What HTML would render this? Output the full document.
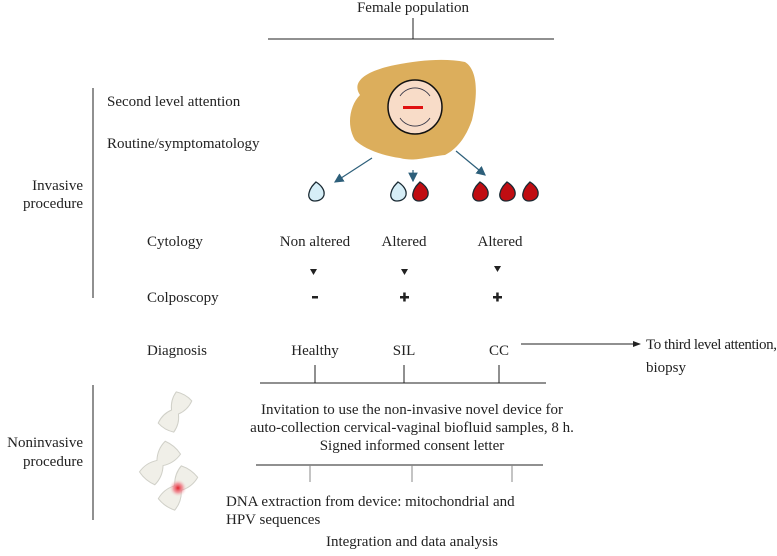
<!DOCTYPE html>
<html><head><style>
body{margin:0;width:777px;height:551px;background:#fff;overflow:hidden}
svg text{font-family:"Liberation Serif",serif;font-size:15px;fill:#222}
</style></head><body>
<svg width="777" height="551" viewBox="0 0 777 551">
<defs><marker id="a" markerWidth="8" markerHeight="8" refX="7" refY="4" orient="auto"><path d="M0,0L8,4L0,8z" fill="#2d5f7a"/></marker>
<marker id="b" markerWidth="8" markerHeight="8" refX="7" refY="4" orient="auto"><path d="M0,1L8,4L0,7z" fill="#222"/></marker>
<radialGradient id="r"><stop offset="0" stop-color="#e0202a"/><stop offset="0.5" stop-color="#f06070" stop-opacity=".6"/><stop offset="1" stop-color="#f0efe8" stop-opacity="0"/></radialGradient></defs>
<g stroke="#222" stroke-width="1" fill="none">
<line x1="413" y1="18" x2="413" y2="39"/><line x1="268" y1="39" x2="554" y2="39"/>
<line x1="93" y1="88" x2="93" y2="298"/><line x1="93" y1="385" x2="93" y2="520"/>
<line x1="260" y1="383" x2="546" y2="383"/>
<line x1="315" y1="365" x2="315" y2="383"/><line x1="404" y1="365" x2="404" y2="383"/><line x1="499" y1="365" x2="499" y2="383"/>
<line x1="256" y1="465" x2="543" y2="465"/>
<line x1="310" y1="465" x2="310" y2="482" stroke="#888"/><line x1="412" y1="465" x2="412" y2="482" stroke="#888"/><line x1="512" y1="465" x2="512" y2="482" stroke="#888"/>
<line x1="521" y1="344" x2="640" y2="344" marker-end="url(#b)"/>
</g>
<path d="M360,95 C350,80 370,70 395,65 C420,60 445,58 465,62 C478,70 478,95 472,120 C465,140 455,150 445,155 C425,157 415,162 400,158 C385,156 365,150 355,140 C346,125 350,105 360,95z" fill="#dcae5c"/>
<circle cx="415" cy="107" r="27" fill="#f8dcc8" stroke="#111" stroke-width="1.5"/>
<path d="M400,96 A18,18 0 0 1 430,96" fill="none" stroke="#334" stroke-width="0.8"/>
<path d="M400,118 A18,18 0 0 0 430,118" fill="none" stroke="#334" stroke-width="0.8"/>
<rect x="403" y="106" width="20" height="3" fill="#e01010"/>
<g stroke="#2d5f7a" stroke-width="1.2"><line x1="372" y1="158" x2="335" y2="182" marker-end="url(#a)"/><line x1="413" y1="170" x2="413" y2="181" marker-end="url(#a)"/><line x1="456" y1="151" x2="485" y2="175" marker-end="url(#a)"/></g>
<g stroke="#1a2a33" stroke-width="1.3">
<path d="M0,-9 C5,-6 9,-1 8,4 C7,8 3,10 -1,10 C-6,10 -8,6 -7,2 C-6,-3 -3,-6 0,-9z" fill="#d6eef7" transform="translate(316,191)"/>
<path d="M0,-9 C5,-6 9,-1 8,4 C7,8 3,10 -1,10 C-6,10 -8,6 -7,2 C-6,-3 -3,-6 0,-9z" fill="#d6eef7" transform="translate(398,191)"/>
<path d="M0,-9 C5,-6 9,-1 8,4 C7,8 3,10 -1,10 C-6,10 -8,6 -7,2 C-6,-3 -3,-6 0,-9z" fill="#c00d12" transform="translate(420,191)"/>
<path d="M0,-9 C5,-6 9,-1 8,4 C7,8 3,10 -1,10 C-6,10 -8,6 -7,2 C-6,-3 -3,-6 0,-9z" fill="#c00d12" transform="translate(480,191)"/>
<path d="M0,-9 C5,-6 9,-1 8,4 C7,8 3,10 -1,10 C-6,10 -8,6 -7,2 C-6,-3 -3,-6 0,-9z" fill="#c00d12" transform="translate(507,191)"/>
<path d="M0,-9 C5,-6 9,-1 8,4 C7,8 3,10 -1,10 C-6,10 -8,6 -7,2 C-6,-3 -3,-6 0,-9z" fill="#c00d12" transform="translate(530,191)"/>
</g>
<g fill="#222"><path d="M310,269h7l-3.5,6z"/><path d="M401,269h7l-3.5,6z"/><path d="M494,266h7l-3.5,6z"/></g>
<g fill="#222"><rect x="312" y="296" width="6" height="2.5"/><rect x="400" y="296" width="9" height="2.5"/><rect x="403.2" y="292.5" width="2.5" height="9"/><rect x="493" y="296" width="9" height="2.5"/><rect x="496.2" y="292.5" width="2.5" height="9"/></g>
<g fill="#f0efe8" stroke="#d0d0c8" stroke-width="1">
<path d="M-9,-18 Q0,-21 9,-18 Q10,-8 4,0 Q10,8 9,18 Q0,21 -9,18 Q-10,8 -4,0 Q-10,-8 -9,-18z" transform="translate(175,412) rotate(30)"/>
<path d="M-10,-20 Q0,-23 10,-20 Q11,-9 4,0 Q11,9 10,20 Q0,23 -10,20 Q-11,9 -4,0 Q-11,-9 -10,-20z" transform="translate(160,463) rotate(40)"/>
<path d="M-10,-20 Q0,-23 10,-20 Q11,-9 4,0 Q11,9 10,20 Q0,23 -10,20 Q-11,9 -4,0 Q-11,-9 -10,-20z" transform="translate(178,488) rotate(35)"/>
</g>
<circle cx="178" cy="488" r="9" fill="url(#r)"/>
<text x="413" y="12" text-anchor="middle">Female population</text>
<text x="107" y="106">Second level attention</text>
<text x="107" y="148">Routine/symptomatology</text>
<g text-anchor="end" style="font-size:16px">
<text x="83" y="190">Invasive</text><text x="83" y="208">procedure</text>
<text x="83" y="447">Noninvasive</text><text x="83" y="466">procedure</text>
</g>
<text x="147" y="246">Cytology</text>
<text x="315" y="246" text-anchor="middle">Non altered</text>
<text x="404" y="246" text-anchor="middle">Altered</text>
<text x="500" y="246" text-anchor="middle">Altered</text>
<text x="147" y="302">Colposcopy</text>
<text x="147" y="355">Diagnosis</text>
<text x="315" y="355" text-anchor="middle">Healthy</text>
<text x="404" y="355" text-anchor="middle">SIL</text>
<text x="499" y="355" text-anchor="middle">CC</text>
<text x="646" y="349" textLength="131">To third level attention,</text>
<text x="646" y="372">biopsy</text>
<text x="412" y="414" text-anchor="middle">Invitation to use the non-invasive novel device for</text>
<text x="412" y="432" text-anchor="middle">auto-collection cervical-vaginal biofluid samples, 8 h.</text>
<text x="412" y="450" text-anchor="middle">Signed informed consent letter</text>
<text x="226" y="506">DNA extraction from device: mitochondrial and</text>
<text x="226" y="524">HPV sequences</text>
<text x="412" y="546" text-anchor="middle">Integration and data analysis</text>
</svg>
</body></html>
